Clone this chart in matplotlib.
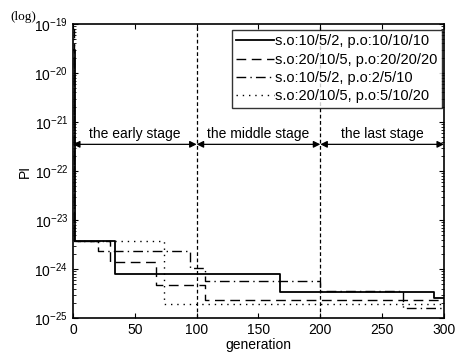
import matplotlib
matplotlib.use("Agg")
from matplotlib import pyplot as plt
from matplotlib.ticker import LogLocator, FixedLocator
import numpy as np

plt.rcParams['font.family'] = ['Liberation Sans', 'DejaVu Sans']
plt.rcParams['mathtext.fontset'] = 'custom'
plt.rcParams['mathtext.rm'] = 'Liberation Sans'
plt.rcParams['mathtext.it'] = 'Liberation Sans'

# step curves: generation where each level starts, and PI level
gen_a = [0, 2, 34, 167, 292, 300]
pi_a = [3e-20, 3.8e-24, 7.8e-25, 3.4e-25, 2.6e-25, 2.6e-25]

gen_b = [0, 1, 30, 67, 107, 300]
pi_b = [8e-20, 3.8e-24, 1.4e-24, 4.7e-25, 2.3e-25, 2.3e-25]

gen_c = [0, 1, 20, 95, 107, 200, 267, 300]
pi_c = [2e-20, 3.8e-24, 2.35e-24, 1.05e-24, 5.8e-25, 3.5e-25, 1.6e-25, 1.6e-25]

gen_d = [0, 1, 74, 300]
pi_d = [5e-20, 3.8e-24, 1.95e-25, 1.95e-25]

labels = ['s.o:10/5/2, p.o:10/10/10', 's.o:20/10/5, p.o:20/20/20',
          's.o:10/5/2, p.o:2/5/10', 's.o:20/10/5, p.o:5/10/20']
stages = ['the early stage', 'the middle stage', 'the last stage']
stage_edges = [0, 100, 200, 300]
yticks = [1e-25, 1e-24, 1e-23, 1e-22, 1e-21, 1e-20, 1e-19]
xticks = [0, 50, 100, 150, 200, 250, 300]

fig = plt.figure(figsize=(4.55, 3.56), dpi=100)
ax = fig.add_axes([0.1604, 0.1067, 0.8154, 0.8259])

ax.step(gen_a, pi_a, where='post', color='k', lw=1.3, linestyle='-', label=labels[0])
ax.step(gen_b, pi_b, where='post', color='k', lw=1.0, linestyle=(0, (7, 4)), label=labels[1])
ax.step(gen_c, pi_c, where='post', color='k', lw=1.0, linestyle=(0, (7, 3, 1, 3)), label=labels[2])
ax.step(gen_d, pi_d, where='post', color='k', lw=1.0, linestyle=(0, (1, 3.5)), label=labels[3])

for g in stage_edges[1:3]:
    ax.axvline(g, color='k', lw=0.9, linestyle=(0, (3, 2)))

arrow_y = 3.5e-22
for i in range(3):
    ax.annotate('', xy=(stage_edges[i], arrow_y), xytext=(stage_edges[i + 1], arrow_y),
                arrowprops=dict(arrowstyle='<|-|>', color='k', lw=0.9,
                                mutation_scale=10, shrinkA=0, shrinkB=0))
    ax.text((stage_edges[i] + stage_edges[i + 1]) / 2, 4.1e-22, stages[i],
            ha='center', va='bottom', fontsize=10)

ax.set_yscale('log')
ax.set_xlim(0, 300)
ax.set_ylim(1e-25, 1e-19)
ax.xaxis.set_major_locator(FixedLocator(xticks))
ax.yaxis.set_major_locator(FixedLocator(yticks))
ax.yaxis.set_minor_locator(LogLocator(base=10, subs=np.arange(2, 10), numticks=10))
ax.tick_params(direction='in', top=True, right=True, labelsize=10)
ax.tick_params(which='minor', direction='in', right=True, length=2)
for s in ax.spines.values():
    s.set_linewidth(1.2)

ax.set_xlabel('generation', fontsize=10, labelpad=1)
ax.set_ylabel('PI', fontsize=10, labelpad=2)
fig.text(0.022, 0.935, '(log)', fontsize=9.5, family='Liberation Serif', va='bottom')

leg = ax.legend(loc='upper right', bbox_to_anchor=(0.995, 0.98), fontsize=10.5,
                frameon=True, fancybox=False, edgecolor='k', handlelength=2.6,
                handletextpad=0.1, borderpad=0.3, labelspacing=0.3,
                borderaxespad=0)
leg.get_frame().set_linewidth(1.0)

fig.savefig('out.png', dpi=100)
